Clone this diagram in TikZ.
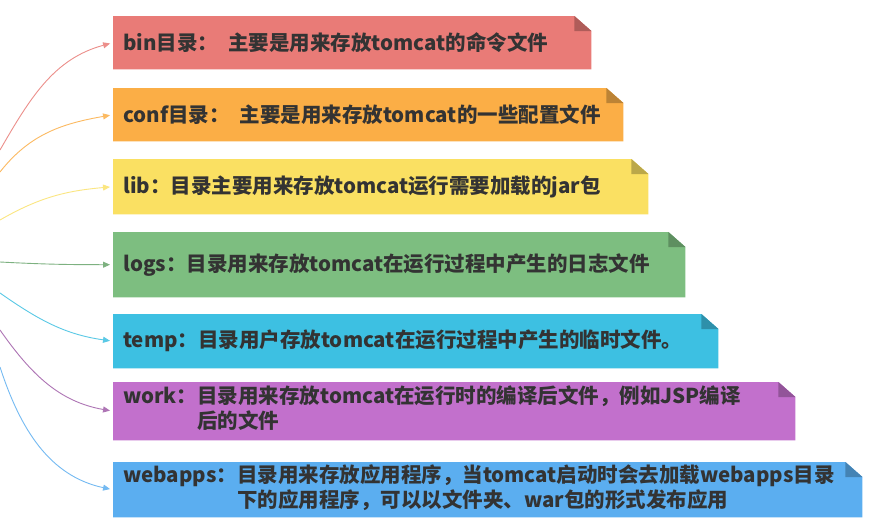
\documentclass[tikz,border=0pt]{standalone}
\usepackage{fontspec}
\setmainfont{Noto Sans CJK SC}
\usetikzlibrary{arrows.meta,backgrounds}
\definecolor{cbin}{HTML}{E97B77}
\definecolor{cconf}{HTML}{FBAE46}
\definecolor{clib}{HTML}{FAE062}
\definecolor{clogs}{HTML}{7DBE80}
\definecolor{ctemp}{HTML}{3DC0E2}
\definecolor{cwork}{HTML}{C270CC}
\definecolor{cweb}{HTML}{5BAEF0}
\definecolor{txt}{HTML}{333333}
\tikzset{
  notebox/.style={anchor=north west, inner xsep=10pt, inner ysep=0pt,
    font=\bfseries\fontsize{20.5}{25}\selectfont, text=txt, align=left},
  link/.style={line width=0.9pt, -{Triangle[length=7pt,width=6pt]}, shorten >=3pt},
}
\newcommand\notebg[2]{%
  \fill[#2] (#1.south west) -- (#1.north west) -- ([xshift=-17pt]#1.north east)
    -- ([yshift=-15pt]#1.north east) -- (#1.south east) -- cycle;
  \fill[#2!75!black] ([xshift=-17pt]#1.north east) -- ([yshift=-15pt]#1.north east)
    -- ([xshift=-17pt,yshift=-15pt]#1.north east) -- cycle;}
\begin{document}
\begin{tikzpicture}[x=1pt,y=1pt]
\useasboundingbox (0,0) rectangle (879,-530);

\node[notebox, minimum height=53pt, text width=458pt] (bin) at (113,-16)
  {bin目录：\hspace{10pt}主要是用来存放tomcat的命令文件};
\node[notebox, minimum height=53pt, text width=490pt] (conf) at (113,-88)
  {conf目录：\hspace{10pt}主要是用来存放tomcat的一些配置文件};
\node[notebox, minimum height=55pt, text width=515pt] (lib) at (113,-159)
  {lib：目录主要用来存放tomcat运行需要加载的jar包};
\node[notebox, minimum height=65pt, text width=552pt] (logs) at (113,-232)
  {logs：目录用来存放tomcat在运行过程中产生的日志文件};
\node[notebox, minimum height=54pt, text width=585pt] (temp) at (113,-314)
  {temp：目录用户存放tomcat在运行过程中产生的临时文件。};
\node[notebox, minimum height=58pt, text width=662pt] (work) at (113,-382)
  {\begin{tabular}{@{}l@{}l@{}}work：&目录用来存放tomcat在运行时的编译后文件，例如JSP编译\\ &后的文件\end{tabular}};
\node[notebox, minimum height=55pt, text width=729pt] (web) at (113,-462)
  {\begin{tabular}{@{}l@{}l@{}}webapps：&目录用来存放应用程序，当tomcat启动时会去加载webapps目录\\ &下的应用程序，可以以文件夹、war包的形式发布应用\end{tabular}};

\begin{scope}[on background layer]
\fill[white] (0,0) rectangle (879,-530);
\notebg{bin}{cbin}
\notebg{conf}{cconf}
\notebg{lib}{clib}
\notebg{logs}{clogs}
\notebg{temp}{ctemp}
\notebg{work}{cwork}
\notebg{web}{cweb}
\end{scope}

\coordinate (s1) at (0,-150);
\coordinate (s2) at (0,-172);
\coordinate (s3) at (0,-220);
\coordinate (s4) at (0,-262);
\coordinate (s5) at (0,-293);
\coordinate (s6) at (0,-330);
\coordinate (s7) at (0,-367);

\draw[link, cbin!85!white] (s1) to[out=60, in=195] (bin.west);
\draw[link, cconf!85!white] (s2) to[out=52, in=190] (conf.west);
\draw[link, clib!80!white] (s3) to[out=30, in=185] (lib.west);
\draw[link, clogs!80!gray] (s4) to[out=-3, in=180] (logs.west);
\draw[link, ctemp!85!white] (s5) to[out=-35, in=172] (temp.west);
\draw[link, cwork!70!gray] (s6) to[out=-55, in=170] (work.west);
\draw[link, cweb!85!white] (s7) to[out=-72, in=168] (web.west);
\end{tikzpicture}
\end{document}
